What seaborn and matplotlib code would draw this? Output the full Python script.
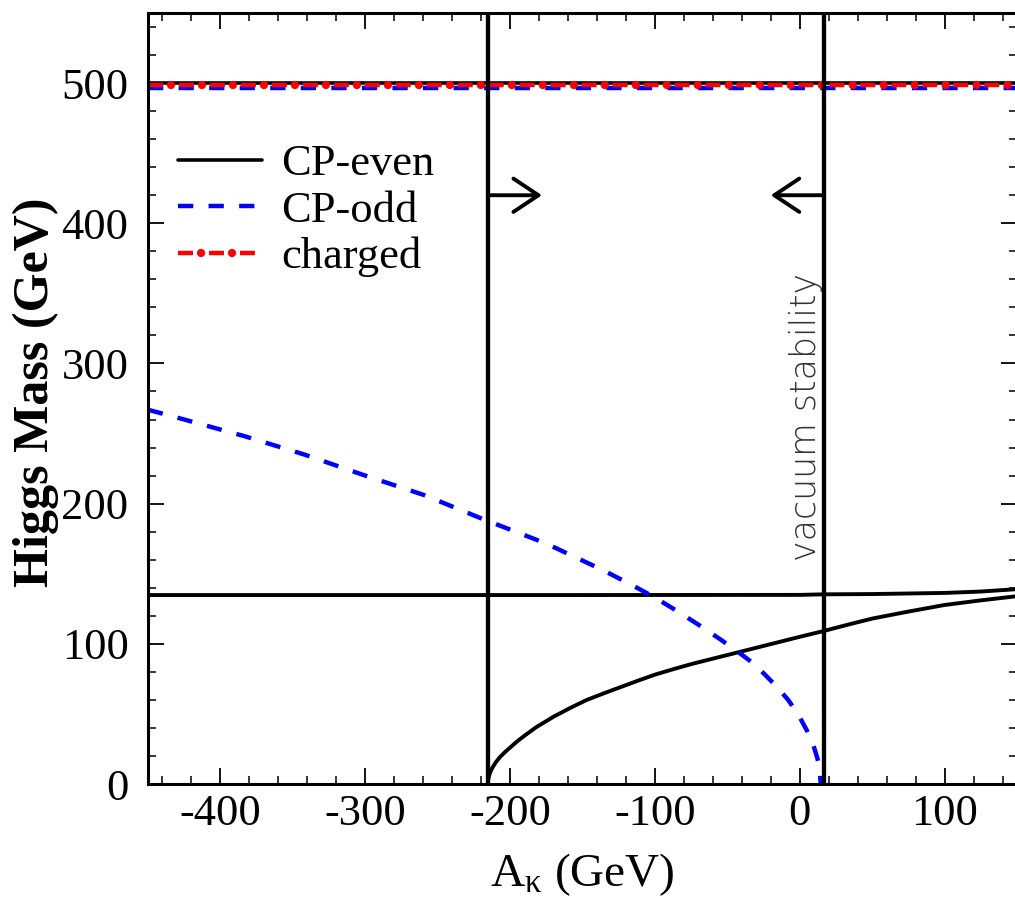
import matplotlib
matplotlib.use("Agg")
import matplotlib.pyplot as plt
from matplotlib.ticker import MultipleLocator, FixedLocator
import seaborn as sns

# ---------------- data ----------------
A_heavy = [-450, 150]
m_H_even = [500.4, 500.4]
m_H_charged = [498.6, 498.6]
m_H_odd = [496.6, 496.6]

A_h2 = [-450, -300, -150, 0, 16, 50, 100, 125, 150]
m_h2 = [134.8, 134.8, 134.8, 134.9, 135.3, 135.5, 136.3, 137.3, 139.0]

A_h1 = [-215.3, -215.1, -214.5, -213.5, -212, -210, -207, -204, -200, -195,
        -190, -182, -170, -158, -147, -135, -124, -112, -100, -87, -75, -62,
        -50, -25, 0, 16, 33, 50, 75, 100, 125, 150]
m_h1 = [0, 3, 6, 8.9, 12, 15.3, 19.2, 22.3, 26, 30.5,
        34.5, 40.5, 48, 54.5, 60, 64.8, 69, 73.6, 78, 82, 85.5, 88.9,
        92, 98.5, 105, 109, 113.6, 118, 123, 127.7, 131, 134]

A_a1 = [-450, -425, -383, -342, -300, -259, -220, -175, -136, -116, -101,
        -85, -69, -55, -41, -32, -24, -16, -8, -1, 5, 9, 12, 13.5, 14.5]
m_a1 = [267, 260, 248, 235, 220, 206, 189.5, 171.5, 152.6, 142, 133.6,
        123.6, 113, 103.3, 93, 86, 78, 69.5, 60, 49.5, 38, 29, 19, 13, 0]

stability_bounds = [-215.3, 16.5]
arrow_level = 420
arrow_tips = [-178, -20]
annot_text = "vacuum stability"
annot_pos = (4, 262)

legend_labels = ["CP-even", "CP-odd", "charged"]
x_major = [-400, -300, -200, -100, 0, 100]
y_major = [0, 100, 200, 300, 400, 500]
x_lim = (-450, 150)
y_lim = (0, 550)
x_label = r"A$_{\mathrm{κ}}$ (GeV)"
y_label = "Higgs Mass (GeV)"

# ---------------- style ----------------
sns.set_style("white")
plt.rcParams["font.family"] = ["Liberation Serif", "DejaVu Serif"]
plt.rcParams["mathtext.fontset"] = "custom"
plt.rcParams["mathtext.rm"] = "Liberation Serif"
plt.rcParams["mathtext.it"] = "Liberation Serif:italic"
plt.rcParams["lines.scale_dashes"] = False
plt.rcParams["axes.unicode_minus"] = False
for k in ["text.color", "axes.labelcolor", "xtick.color", "ytick.color",
          "axes.edgecolor"]:
    plt.rcParams[k] = "black"

fig = plt.figure(figsize=(10.15, 9.02), dpi=100)
ax = fig.add_axes([148 / 1015, 118 / 902, 869 / 1015, 771 / 902])

blue_dash = (0, (11, 11))
red_dash = (0, (10.8, 11.5))
red_dot = (5.75, (0.01, 22.3))

# heavy states
sns.lineplot(x=A_heavy, y=m_H_even, color="black", lw=2.6, ax=ax,
             estimator=None, sort=False)
l_even = ax.lines[-1]
sns.lineplot(x=A_heavy, y=m_H_odd, color="blue", lw=3.2, linestyle=blue_dash,
             ax=ax, estimator=None, sort=False)
l_odd = ax.lines[-1]
sns.lineplot(x=A_heavy, y=m_H_charged, color="red", lw=3.2, linestyle=red_dash,
             ax=ax, estimator=None, sort=False)
l_ch1 = ax.lines[-1]
sns.lineplot(x=A_heavy, y=m_H_charged, color="red", lw=6, linestyle=red_dot,
             dash_capstyle="round", ax=ax, estimator=None, sort=False)
l_ch2 = ax.lines[-1]

# light states
sns.lineplot(x=A_h2, y=m_h2, color="black", lw=2.8, ax=ax, estimator=None, sort=False)
sns.lineplot(x=A_h1, y=m_h1, color="black", lw=2.8, ax=ax, estimator=None, sort=False)
sns.lineplot(x=A_a1, y=m_a1, color="blue", lw=3.2, linestyle=blue_dash,
             ax=ax, estimator=None, sort=False)

# vacuum stability bounds
for xb in stability_bounds:
    ax.axvline(xb, color="black", lw=3.1, zorder=5)
for xb, tip in zip(stability_bounds, arrow_tips):
    ax.annotate("", xy=(tip, arrow_level), xytext=(xb, arrow_level),
                arrowprops=dict(arrowstyle="->,head_length=0.6,head_width=0.4",
                                mutation_scale=30, lw=2.8, color="black",
                                shrinkA=0, shrinkB=0))
ax.text(annot_pos[0], annot_pos[1], annot_text, rotation=90, ha="center",
        va="center", fontsize=25, family="DejaVu Sans", fontweight="light",
        color="#333333")

# axes
ax.set_xlim(*x_lim)
ax.set_ylim(*y_lim)
ax.xaxis.set_major_locator(FixedLocator(x_major))
ax.yaxis.set_major_locator(FixedLocator(y_major))
ax.xaxis.set_minor_locator(MultipleLocator(20))
ax.yaxis.set_minor_locator(MultipleLocator(20))
ax.tick_params(which="both", direction="in", top=True, right=True,
               bottom=True, left=True, colors="black")
ax.tick_params(which="major", length=11.5, width=1.3, labelsize=32)
ax.tick_params(which="minor", length=5.8, width=1.1)
ax.tick_params(axis="y", which="major", pad=14)
ax.tick_params(axis="x", which="major", pad=7)
for s in ax.spines.values():
    s.set_linewidth(2.2)
    s.set_color("black")

ax.set_xlabel(x_label, fontsize=34, va="top")
ax.xaxis.set_label_coords(0.5, -0.087)
ax.set_ylabel(y_label, fontsize=36, fontweight="bold", va="center")
ax.yaxis.set_label_coords(-0.1295, 0.508)

leg = ax.legend([l_even, l_odd, (l_ch1, l_ch2)], legend_labels,
                loc="upper left", bbox_to_anchor=(0.0345, 0.83),
                frameon=False, fontsize=32, handlelength=1.9,
                handletextpad=0.42, labelspacing=0.14, borderpad=0,
                borderaxespad=0)

fig.savefig("out.png", dpi=100)
